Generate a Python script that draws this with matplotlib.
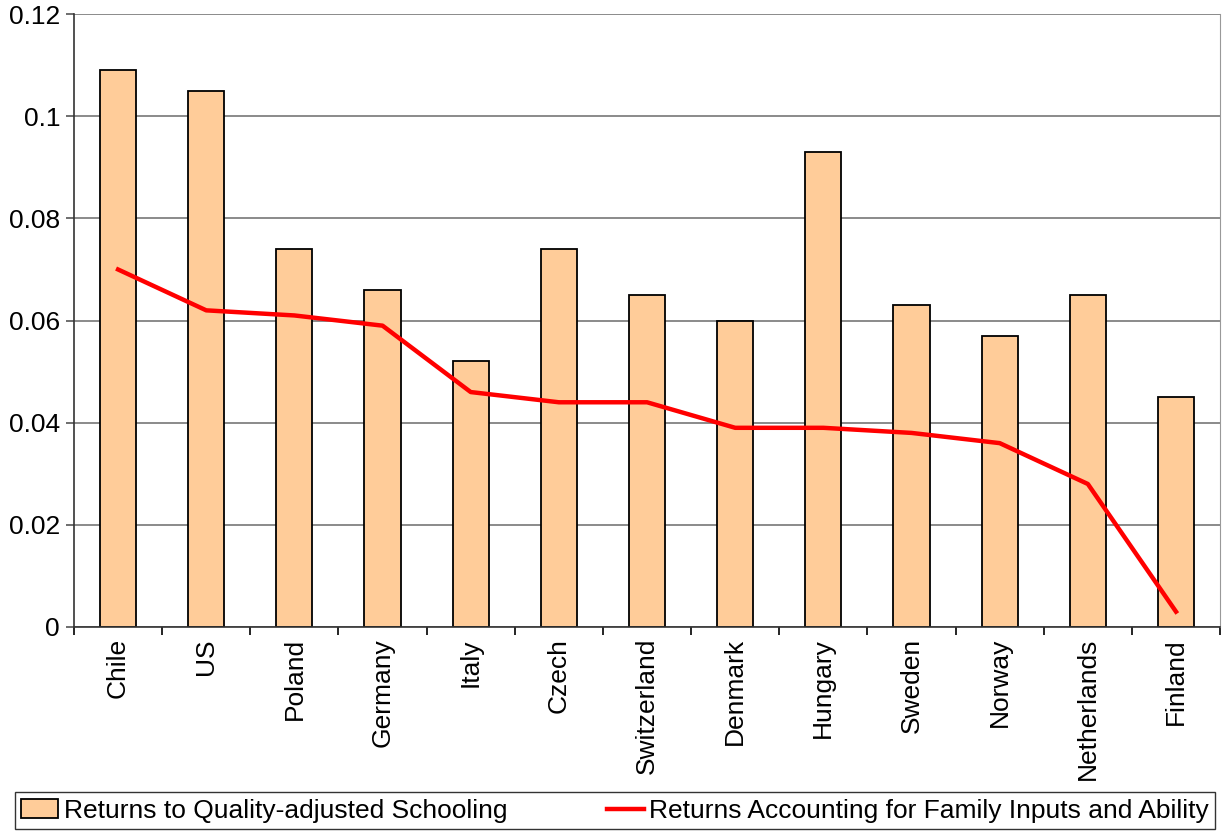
import matplotlib.pyplot as plt
import numpy as np

plt.rcParams['font.family'] = ['Liberation Sans', 'DejaVu Sans']

countries = ["Chile", "US", "Poland", "Germany", "Italy", "Czech", "Switzerland",
             "Denmark", "Hungary", "Sweden", "Norway", "Netherlands", "Finland"]
quality_adj = [0.109, 0.105, 0.074, 0.066, 0.052, 0.074, 0.065,
               0.060, 0.093, 0.063, 0.057, 0.065, 0.045]
family_ability = [0.070, 0.062, 0.061, 0.059, 0.046, 0.044, 0.044,
                  0.039, 0.039, 0.038, 0.036, 0.028, 0.003]

fig = plt.figure(figsize=(12.25, 8.31), dpi=100)
ax = fig.add_axes([0.0604, 0.2455, 0.9356, 0.7375])

x = np.arange(len(countries))
bars = ax.bar(x, quality_adj, width=0.41, color='#FFCC99', edgecolor='black',
              linewidth=1.3, zorder=2, label='Returns to Quality-adjusted Schooling')
line, = ax.plot(x, family_ability, color='#FF0000', linewidth=3.2, zorder=3,
                label='Returns Accounting for Family Inputs and Ability')

ax.set_xlim(-0.5, len(countries) - 0.5)
ax.set_ylim(0, 0.12)
ax.set_yticks([0, 0.02, 0.04, 0.06, 0.08, 0.1, 0.12])
ax.set_yticklabels(['0', '0.02', '0.04', '0.06', '0.08', '0.1', '0.12'], fontsize=19)
ax.yaxis.grid(True, color='#777777', linewidth=1.2, zorder=0)
ax.set_axisbelow(True)

ax.set_xticks(x)
ax.set_xticklabels(countries, rotation=90, fontsize=19)
ax.tick_params(axis='x', length=0, pad=8)
ax.set_xticks(np.arange(-0.5, len(countries)), minor=True)
ax.tick_params(axis='x', which='minor', length=6, width=1.2)
ax.tick_params(axis='y', length=6, width=1.2, color='#555555', pad=4)

ax.spines['top'].set_visible(False)
ax.spines['right'].set_color('#999999')
ax.spines['left'].set_color('#333333')
ax.spines['bottom'].set_color('#333333')
ax.spines['left'].set_linewidth(1.2)
ax.spines['bottom'].set_linewidth(1.2)

leg = fig.legend([bars, line], [bars.get_label(), line.get_label()],
                 loc='lower left', bbox_to_anchor=(0.012, 0.002, 0.98, 0.054),
                 mode='expand', ncol=2, fontsize=19, frameon=True, fancybox=False,
                 edgecolor='black', handlelength=1.4, handletextpad=0.2,
                 columnspacing=1.0, borderpad=0.25, borderaxespad=0)
leg.get_frame().set_linewidth(1.0)

fig.savefig("out.png", dpi=100)
